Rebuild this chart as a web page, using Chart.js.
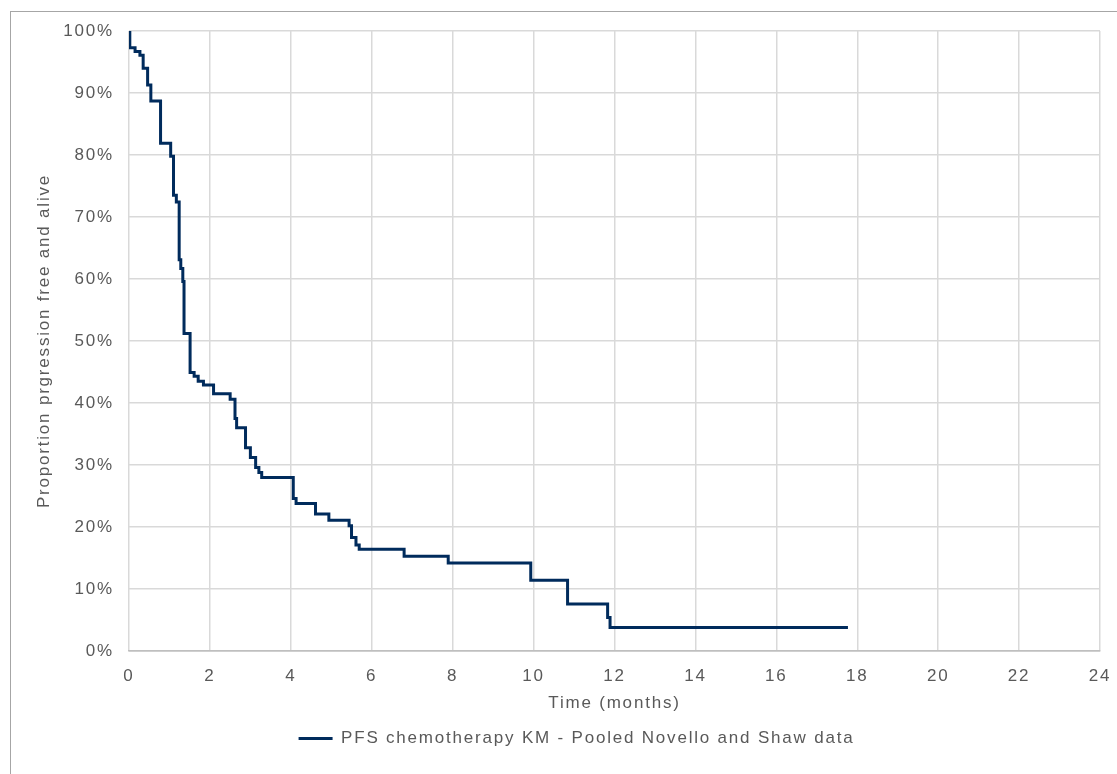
<!DOCTYPE html>
<html>
<head>
<meta charset="utf-8">
<script src="https://cdn.jsdelivr.net/npm/chart.js@4.4.1/dist/chart.umd.min.js"></script>
<style>
  html, body { margin: 0; padding: 0; background: #ffffff; }
  #wrap { width: 1117px; height: 774px; }
</style>
</head>
<body>
<div id="wrap"><canvas id="grafico"></canvas></div>
<script>
const tiempos = [0, 0.02, 0.15, 0.27, 0.35, 0.46, 0.54, 0.78, 1.03, 1.10, 1.17, 1.24, 1.28, 1.33, 1.36,
  1.51, 1.61, 1.71, 1.84, 2.09, 2.50, 2.62, 2.66, 2.88, 3.00, 3.13, 3.21, 3.28, 4.06, 4.13, 4.61,
  4.94, 5.44, 5.50, 5.61, 5.69, 6.80, 7.89, 9.93, 10.84, 11.83, 11.89, 17.77];
const supervivencia = [100, 97.3, 96.7, 96.1, 94.0, 91.3, 88.7, 81.9, 79.8, 73.5, 72.4, 63.1, 61.7, 59.6, 51.2,
  44.9, 44.3, 43.5, 42.9, 41.5, 40.6, 37.5, 36.0, 32.8, 31.2, 29.6, 28.8, 28.0, 24.6, 23.8, 22.1,
  21.1, 20.2, 18.3, 17.1, 16.4, 15.3, 14.2, 11.4, 7.6, 5.4, 3.8, 3.8];
const ticksX = [0, 2, 4, 6, 8, 10, 12, 14, 16, 18, 20, 22, 24];
const ticksY = [0, 10, 20, 30, 40, 50, 60, 70, 80, 90, 100];
const etiquetaSerie = 'PFS chemotherapy KM - Pooled Novello and Shaw data';

const fuente = "'Liberation Sans', Arial, sans-serif";
const gris = '#595959';
const espaciado = '1.8px';

// borde exterior del gráfico (recortado a la derecha y abajo) + espaciado de letras
const bordePlugin = {
  id: 'borde',
  beforeUpdate(chart) {
    chart.ctx.letterSpacing = espaciado;
  },
  afterLayout(chart) {
    // mover la leyenda un poco a la derecha
    chart.legend.left += 18;
    chart.legend.right += 18;
  },
  beforeDraw(chart) {
    const ctx = chart.ctx;
    ctx.letterSpacing = espaciado;
    ctx.save();
    ctx.fillStyle = '#ffffff';
    ctx.fillRect(0, 0, chart.width, chart.height);
    ctx.strokeStyle = '#a6a6a6';
    ctx.lineWidth = 1;
    ctx.strokeRect(10.5, 11.5, 1300, 900);
    ctx.restore();
  }
};

const grafico = document.getElementById('grafico').getContext('2d');

window.graficaKM = new Chart(grafico, {
  type: 'line',
  data: {
    datasets: [{
      label: etiquetaSerie,
      data: tiempos.map((t, i) => ({ x: t, y: supervivencia[i] })),
      borderColor: '#002b5c',
      backgroundColor: '#002b5c',
      borderWidth: 3,
      stepped: 'before',
      pointRadius: 0,
      fill: false
    }]
  },
  options: {
    responsive: true,
    maintainAspectRatio: false,
    animation: false,
    layout: { padding: { top: 31, right: 0, bottom: 17, left: 0 } },
    scales: {
      x: {
        type: 'linear',
        min: 0,
        max: 24,
        afterBuildTicks: s => { s.ticks = ticksX.map(v => ({ value: v })); },
        afterFit: s => {
          s.height = 73;
          s.paddingRight = 17;
          s.paddingLeft = 0;
        },
        ticks: { color: gris, font: { family: fuente, size: 17 }, padding: 15, maxRotation: 0 },
        grid: { color: '#d9d9d9', lineWidth: 1.5, drawTicks: false },
        border: { color: '#bfbfbf', width: 1.5 },
        title: {
          display: true,
          text: 'Time (months)',
          color: gris,
          font: { family: fuente, size: 17 },
          padding: { top: 4, bottom: 10 }
        }
      },
      y: {
        min: 0,
        max: 100,
        afterBuildTicks: s => { s.ticks = ticksY.map(v => ({ value: v })); },
        afterFit: s => { s.width = 129; },
        ticks: {
          color: gris,
          font: { family: fuente, size: 17 },
          padding: 15,
          callback: v => v + '%'
        },
        grid: {
          color: c => (c.tick && c.tick.value === 0 ? '#bfbfbf' : '#d9d9d9'),
          lineWidth: 1.5,
          drawTicks: false
        },
        border: { display: false },
        title: {
          display: true,
          text: 'Proportion prgression free and alive',
          color: gris,
          font: { family: fuente, size: 17 },
          padding: { top: 34, bottom: 4 }
        }
      }
    },
    plugins: {
      legend: {
        position: 'bottom',
        labels: {
          color: gris,
          font: { family: fuente, size: 17 },
          usePointStyle: true,
          pointStyle: 'line',
          pointStyleWidth: 34,
          boxHeight: 17,
          padding: 6
        }
      },
      tooltip: { enabled: false }
    }
  },
  plugins: [bordePlugin]
});
</script>
</body>
</html>
